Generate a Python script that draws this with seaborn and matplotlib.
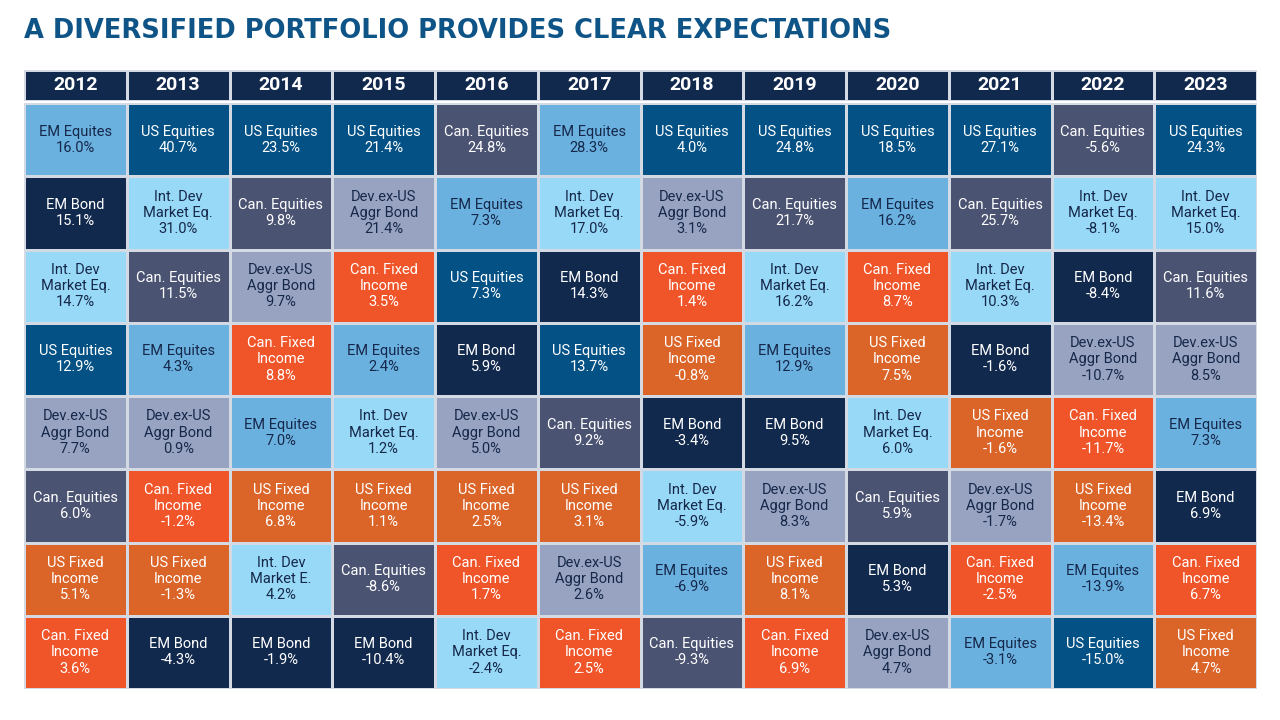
import numpy as np
import pandas as pd
import matplotlib
matplotlib.use("Agg")
import matplotlib.pyplot as plt
from matplotlib.colors import ListedColormap
import seaborn as sns

# Asset classes: label, fill colour, text colour
classes = ["EMEQ", "USEQ", "EMBD", "INTL", "CANEQ", "DEVB", "CANFI", "USFI"]
class_labels = {
    "EMEQ": "EM Equites",
    "USEQ": "US Equities",
    "EMBD": "EM Bond",
    "INTL": "Int. Dev\nMarket Eq.",
    "CANEQ": "Can. Equities",
    "DEVB": "Dev.ex-US\nAggr Bond",
    "CANFI": "Can. Fixed\nIncome",
    "USFI": "US Fixed\nIncome",
}
class_colors = ["#6AB1E0", "#035185", "#12294E", "#97D9F6",
                "#4B5373", "#98A3C1", "#F05429", "#DB6428"]
class_text = ["#16284A", "white", "white", "#16284A",
              "white", "#16284A", "white", "white"]

years = [2012, 2013, 2014, 2015, 2016, 2017, 2018, 2019, 2020, 2021, 2022, 2023]

# ranking of asset classes per year (best to worst)
ranking = [
    ["EMEQ", "EMBD", "INTL", "USEQ", "DEVB", "CANEQ", "USFI", "CANFI"],
    ["USEQ", "INTL", "CANEQ", "EMEQ", "DEVB", "CANFI", "USFI", "EMBD"],
    ["USEQ", "CANEQ", "DEVB", "CANFI", "EMEQ", "USFI", "INTL", "EMBD"],
    ["USEQ", "DEVB", "CANFI", "EMEQ", "INTL", "USFI", "CANEQ", "EMBD"],
    ["CANEQ", "EMEQ", "USEQ", "EMBD", "DEVB", "USFI", "CANFI", "INTL"],
    ["EMEQ", "INTL", "EMBD", "USEQ", "CANEQ", "USFI", "DEVB", "CANFI"],
    ["USEQ", "DEVB", "CANFI", "USFI", "EMBD", "INTL", "EMEQ", "CANEQ"],
    ["USEQ", "CANEQ", "INTL", "EMEQ", "EMBD", "DEVB", "USFI", "CANFI"],
    ["USEQ", "EMEQ", "CANFI", "USFI", "INTL", "CANEQ", "EMBD", "DEVB"],
    ["USEQ", "CANEQ", "INTL", "EMBD", "USFI", "DEVB", "CANFI", "EMEQ"],
    ["CANEQ", "INTL", "EMBD", "DEVB", "CANFI", "USFI", "EMEQ", "USEQ"],
    ["USEQ", "INTL", "CANEQ", "DEVB", "EMEQ", "EMBD", "CANFI", "USFI"],
]

returns = [
    [16.0, 15.1, 14.7, 12.9, 7.7, 6.0, 5.1, 3.6],
    [40.7, 31.0, 11.5, 4.3, 0.9, -1.2, -1.3, -4.3],
    [23.5, 9.8, 9.7, 8.8, 7.0, 6.8, 4.2, -1.9],
    [21.4, 21.4, 3.5, 2.4, 1.2, 1.1, -8.6, -10.4],
    [24.8, 7.3, 7.3, 5.9, 5.0, 2.5, 1.7, -2.4],
    [28.3, 17.0, 14.3, 13.7, 9.2, 3.1, 2.6, 2.5],
    [4.0, 3.1, 1.4, -0.8, -3.4, -5.9, -6.9, -9.3],
    [24.8, 21.7, 16.2, 12.9, 9.5, 8.3, 8.1, 6.9],
    [18.5, 16.2, 8.7, 7.5, 6.0, 5.9, 5.3, 4.7],
    [27.1, 25.7, 10.3, -1.6, -1.6, -1.7, -2.5, -3.1],
    [-5.6, -8.1, -8.4, -10.7, -11.7, -13.4, -13.9, -15.0],
    [24.3, 15.0, 11.6, 8.5, 7.3, 6.9, 6.7, 4.7],
]

# one label printed differently in the original
label_overrides = {(2014, "INTL"): "Int. Dev\nMarket E."}

codes = pd.DataFrame(
    np.array([[classes.index(a) for a in col] for col in ranking]).T,
    columns=years,
)

sns.set_theme(style="white")
plt.rcParams["font.family"] = ["Roboto", "DejaVu Sans"]

fig = plt.figure(figsize=(12.8, 7.2), dpi=100)
W, H = 1280, 720
left, right = 24, 1257
grid_line = "#D3DAE4"


def px_axes(x0, y0, x1, y1):
    return fig.add_axes([x0 / W, 1 - y1 / H, (x1 - x0) / W, (y1 - y0) / H])


fig.text(24 / W, 1 - 31 / H, "A DIVERSIFIED PORTFOLIO PROVIDES CLEAR EXPECTATIONS",
         fontsize=18.5, fontweight="bold", color="#0E5486", va="center", ha="left",
         family=["DejaVu Sans"])

# header row
hax = px_axes(left, 70, right, 101)
header = pd.DataFrame([np.zeros(len(years))], columns=years)
sns.heatmap(header, ax=hax, cmap=ListedColormap(["#12294E"]), cbar=False,
            linewidths=1.0, linecolor=grid_line,
            annot=np.array([[str(y) for y in years]]), fmt="",
            annot_kws={"size": 14, "weight": "bold", "color": "white"})
hax.set_xticks([])
hax.set_yticks([])
hax.set_xlabel("")
hax.set_ylabel("")

# body grid
ax = px_axes(left, 103, right, 689)
sns.heatmap(codes, ax=ax, cmap=ListedColormap(class_colors), vmin=-0.5, vmax=7.5,
            cbar=False, linewidths=1.0, linecolor=grid_line)
for j, yr in enumerate(years):
    for i, (asset, val) in enumerate(zip(ranking[j], returns[j])):
        k = classes.index(asset)
        label = label_overrides.get((yr, asset), class_labels[asset])
        ax.text(j + 0.5, i + 0.5, f"{label}\n{val:.1f}%", ha="center", va="center",
                fontsize=10.5, color=class_text[k], linespacing=1.2)
ax.set_xticks([])
ax.set_yticks([])
ax.set_xlabel("")
ax.set_ylabel("")

fig.savefig("out.png", dpi=100)
